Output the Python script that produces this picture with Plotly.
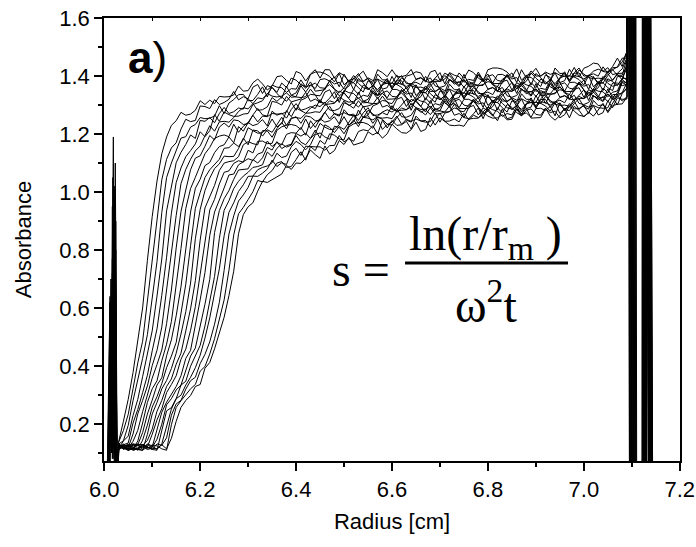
import plotly.graph_objects as go

# Radius grid of the scans [cm]
RADIUS = [6.03, 6.04, 6.05, 6.06, 6.07, 6.08, 6.09, 6.10, 6.11, 6.12,
          6.13, 6.14, 6.15, 6.16, 6.17, 6.18, 6.19, 6.20, 6.21, 6.22,
          6.23, 6.24, 6.25, 6.26, 6.27, 6.28, 6.29, 6.30, 6.31, 6.32,
          6.33, 6.34, 6.35, 6.36, 6.37, 6.38, 6.39, 6.40, 6.41, 6.42,
          6.43, 6.44, 6.45, 6.46, 6.47, 6.48, 6.49, 6.50, 6.51, 6.52,
          6.53, 6.54, 6.55, 6.56, 6.57, 6.58, 6.59, 6.60, 6.61, 6.62,
          6.63, 6.64, 6.65, 6.66, 6.67, 6.68, 6.69, 6.70, 6.71, 6.72,
          6.73, 6.74, 6.75, 6.76, 6.77, 6.78, 6.79, 6.80, 6.81, 6.82,
          6.83, 6.84, 6.85, 6.86, 6.87, 6.88, 6.89, 6.90, 6.91, 6.92,
          6.93, 6.94, 6.95, 6.96, 6.97, 6.98, 6.99, 7.00, 7.01, 7.02,
          7.03, 7.04, 7.05, 7.06, 7.07, 7.08, 7.09]

# Absorbance of each scan in milli-absorbance units (scan 1 ... scan 20)
A00 = [138,209,285,377,489,600,764,915,1038,1132,
       1190,1230,1246,1275,1265,1269,1282,1315,1302,1317,
       1305,1330,1328,1329,1335,1366,1348,1350,1377,1390,
       1373,1352,1366,1398,1401,1385,1373,1416,1409,1383,
       1407,1422,1393,1422,1422,1393,1412,1402,1383,1378,
       1402,1417,1388,1378,1422,1412,1398,1422,1398,1398,
       1403,1423,1389,1395,1380,1414,1420,1386,1410,1401,
       1382,1411,1392,1421,1412,1393,1383,1422,1428,1428,
       1424,1414,1395,1425,1386,1402,1407,1427,1399,1414,
       1406,1412,1403,1399,1400,1430,1397,1427,1434,1445,
       1442,1416,1413,1433,1462,1433,1487]
A01 = [137,177,233,321,411,485,627,780,917,1042,
       1113,1152,1170,1217,1251,1243,1247,1297,1295,1288,
       1319,1302,1309,1320,1347,1318,1329,1322,1362,1371,
       1340,1367,1361,1344,1376,1361,1393,1386,1370,1364,
       1406,1414,1414,1409,1399,1380,1409,1370,1385,1390,
       1409,1380,1394,1385,1390,1380,1375,1375,1404,1370,
       1400,1405,1415,1411,1382,1377,1393,1412,1373,1412,
       1403,1398,1379,1389,1385,1414,1385,1390,1376,1405,
       1406,1397,1411,1378,1422,1394,1418,1400,1401,1411,
       1383,1428,1409,1410,1387,1412,1428,1400,1402,1408,
       1400,1432,1410,1429,1430,1449,1484]
A02 = [130,142,195,280,351,426,508,630,760,929,
       1050,1100,1142,1186,1191,1224,1233,1257,1253,1255,
       1262,1298,1271,1307,1319,1336,1337,1315,1316,1337,
       1363,1328,1369,1362,1360,1344,1357,1355,1387,1362,
       1369,1357,1388,1391,1383,1397,1363,1407,1378,1402,
       1383,1383,1392,1363,1407,1387,1387,1363,1387,1402,
       1374,1374,1379,1370,1399,1375,1390,1381,1390,1410,
       1387,1367,1406,1372,1378,1407,1388,1407,1374,1374,
       1375,1404,1390,1395,1371,1382,1411,1393,1379,1375,
       1386,1411,1378,1384,1424,1396,1421,1407,1395,1391,
       1393,1391,1417,1422,1432,1462,1462]
A03 = [114,141,158,229,285,363,438,521,641,769,
       935,1021,1101,1137,1164,1197,1185,1247,1244,1257,
       1239,1271,1292,1271,1277,1290,1286,1322,1305,1325,
       1322,1338,1361,1340,1324,1365,1334,1342,1374,1358,
       1380,1348,1351,1353,1385,1373,1379,1355,1365,1394,
       1375,1360,1355,1365,1389,1355,1360,1399,1370,1394,
       1380,1366,1361,1362,1357,1381,1382,1382,1402,1387,
       1379,1379,1388,1369,1370,1404,1380,1399,1405,1385,
       1382,1406,1377,1363,1378,1403,1369,1409,1395,1372,
       1388,1374,1394,1415,1382,1402,1398,1390,1401,1417,
       1424,1417,1429,1405,1410,1425,1464]
A04 = [114,128,134,203,250,308,368,452,528,644,
       775,927,1033,1083,1122,1143,1166,1208,1191,1212,
       1267,1244,1276,1267,1261,1262,1269,1271,1302,1308,
       1315,1340,1331,1328,1331,1342,1327,1329,1367,1345,
       1368,1376,1360,1358,1383,1356,1343,1360,1387,1353,
       1392,1377,1353,1368,1353,1372,1392,1358,1377,1372,
       1364,1373,1388,1394,1384,1394,1366,1361,1366,1390,
       1372,1381,1362,1381,1373,1368,1368,1392,1369,1364,
       1389,1399,1379,1356,1366,1396,1396,1378,1364,1404,
       1395,1367,1392,1408,1380,1410,1411,1383,1404,1395,
       1378,1376,1402,1422,1403,1403,1462]
A05 = [114,131,119,165,235,281,331,401,454,534,
       667,804,919,1029,1078,1113,1142,1159,1194,1229,
       1210,1242,1244,1241,1257,1278,1291,1287,1305,1282,
       1284,1294,1326,1313,1328,1313,1334,1328,1326,1329,
       1355,1334,1332,1359,1371,1354,1332,1344,1375,1377,
       1360,1345,1384,1374,1345,1369,1384,1355,1384,1384,
       1356,1375,1365,1347,1342,1366,1382,1353,1343,1387,
       1378,1364,1388,1364,1365,1369,1389,1355,1361,1346,
       1381,1386,1352,1377,1368,1349,1378,1360,1390,1381,
       1363,1354,1394,1400,1401,1397,1388,1370,1401,1363,
       1380,1388,1409,1385,1409,1410,1430]
A06 = [119,116,116,140,178,242,304,358,405,455,
       546,662,807,933,1007,1077,1117,1125,1158,1195,
       1180,1224,1238,1224,1249,1246,1233,1236,1266,1288,
       1266,1262,1313,1309,1300,1330,1311,1315,1321,1344,
       1313,1321,1309,1345,1353,1322,1348,1341,1324,1355,
       1337,1369,1360,1342,1332,1371,1376,1376,1371,1361,
       1343,1372,1333,1349,1354,1373,1345,1359,1350,1355,
       1346,1341,1341,1370,1337,1366,1371,1381,1377,1348,
       1344,1359,1378,1340,1379,1370,1365,1347,1358,1354,
       1384,1356,1362,1348,1378,1379,1371,1386,1354,1399,
       1372,1399,1382,1387,1406,1387,1446]
A07 = [119,121,131,114,141,203,274,321,349,418,
       475,553,676,805,943,1012,1051,1093,1132,1154,
       1185,1193,1197,1191,1234,1206,1227,1240,1265,1242,
       1262,1260,1271,1269,1270,1276,1310,1282,1317,1324,
       1337,1335,1309,1307,1324,1346,1309,1351,1343,1340,
       1323,1334,1330,1361,1334,1340,1325,1354,1354,1345,
       1360,1326,1370,1342,1366,1347,1348,1357,1328,1372,
       1353,1353,1329,1353,1369,1340,1340,1345,1336,1365,
       1342,1356,1347,1357,1377,1354,1334,1374,1341,1347,
       1377,1359,1379,1346,1347,1348,1378,1365,1371,1348,
       1360,1392,1375,1365,1370,1390,1429]
A08 = [109,124,126,131,128,170,234,282,334,359,
       435,490,573,673,807,931,1013,1044,1091,1102,
       1136,1157,1163,1190,1170,1226,1210,1240,1229,1235,
       1250,1228,1279,1265,1272,1255,1285,1305,1282,1287,
       1295,1288,1319,1298,1315,1309,1320,1343,1322,1304,
       1345,1313,1320,1350,1332,1353,1320,1322,1322,1351,
       1338,1342,1318,1329,1358,1339,1325,1320,1330,1354,
       1321,1326,1365,1336,1361,1346,1332,1327,1328,1323,
       1348,1348,1348,1369,1354,1346,1346,1356,1338,1339,
       1374,1351,1371,1377,1358,1355,1380,1352,1339,1355,
       1381,1350,1391,1381,1367,1392,1392]
A09 = [128,114,114,116,112,144,196,258,294,339,
       394,434,481,587,682,815,944,998,1050,1077,
       1097,1113,1151,1153,1169,1157,1181,1222,1212,1203,
       1205,1222,1252,1225,1236,1281,1260,1290,1281,1272,
       1273,1277,1275,1301,1304,1306,1329,1317,1310,1313,
       1324,1308,1309,1344,1322,1342,1349,1330,1328,1354,
       1326,1311,1326,1351,1317,1356,1342,1318,1333,1318,
       1338,1358,1324,1343,1339,1330,1339,1354,1360,1350,
       1361,1332,1327,1333,1357,1339,1348,1330,1350,1342,
       1338,1339,1364,1341,1337,1362,1373,1354,1332,1343,
       1374,1377,1360,1350,1399,1399,1385]
A10 = [128,121,114,112,112,109,164,234,274,321,
       350,391,444,510,587,686,839,940,1005,1048,
       1081,1097,1124,1122,1123,1150,1186,1163,1214,1211,
       1193,1215,1206,1232,1258,1230,1256,1257,1254,1271,
       1290,1300,1295,1310,1283,1281,1288,1315,1298,1309,
       1293,1314,1308,1305,1306,1331,1309,1305,1330,1342,
       1324,1301,1313,1343,1343,1324,1310,1349,1339,1310,
       1335,1350,1321,1350,1351,1322,1341,1331,1313,1308,
       1333,1348,1319,1310,1354,1345,1331,1356,1333,1334,
       1339,1360,1327,1333,1319,1354,1360,1327,1353,1345,
       1327,1359,1342,1376,1376,1367,1372]
A11 = [121,116,121,128,131,126,143,182,244,281,
       329,355,406,444,517,597,694,834,945,986,
       1023,1074,1100,1105,1108,1122,1163,1174,1167,1163,
       1212,1211,1189,1219,1240,1218,1253,1260,1237,1263,
       1259,1246,1246,1275,1296,1269,1262,1308,1301,1289,
       1315,1294,1297,1303,1326,1293,1299,1286,1320,1327,
       1295,1320,1312,1295,1325,1306,1336,1326,1307,1297,
       1337,1342,1342,1337,1328,1309,1338,1299,1315,1320,
       1340,1311,1325,1317,1322,1313,1308,1309,1339,1306,
       1336,1342,1353,1349,1321,1317,1333,1353,1316,1356,
       1348,1346,1329,1344,1349,1388,1374]
A12 = [131,116,126,121,112,109,121,164,214,252,
       308,336,366,423,458,523,605,716,827,938,
       975,1028,1068,1073,1099,1108,1103,1144,1135,1175,
       1176,1167,1168,1213,1225,1231,1233,1229,1216,1252,
       1219,1240,1252,1276,1252,1271,1266,1274,1266,1263,
       1266,1297,1266,1297,1304,1316,1313,1285,1281,1299,
       1320,1282,1322,1314,1310,1292,1305,1300,1329,1300,
       1306,1291,1320,1320,1312,1326,1292,1336,1308,1332,
       1314,1314,1323,1295,1339,1320,1320,1297,1322,1338,
       1310,1311,1317,1308,1338,1315,1330,1322,1333,1354,
       1332,1315,1356,1327,1342,1381,1377]
A13 = [124,114,128,109,116,119,128,120,185,240,
       275,301,329,366,426,454,537,628,722,850,
       931,971,1014,1059,1062,1094,1104,1115,1109,1131,
       1137,1176,1157,1171,1163,1199,1205,1203,1223,1196,
       1246,1223,1253,1241,1246,1260,1235,1284,1266,1269,
       1247,1273,1291,1264,1266,1274,1266,1298,1275,1290,
       1284,1294,1316,1295,1276,1316,1284,1291,1321,1302,
       1322,1288,1288,1288,1318,1304,1308,1284,1295,1324,
       1306,1291,1286,1297,1321,1288,1293,1333,1305,1330,
       1316,1303,1299,1300,1296,1321,1322,1323,1345,1331,
       1324,1327,1338,1324,1334,1378,1369]
A14 = [119,126,109,131,116,128,119,119,147,199,
       266,287,317,334,385,434,462,532,613,699,
       860,936,977,1005,1044,1076,1077,1080,1112,1100,
       1118,1154,1145,1174,1150,1160,1165,1202,1193,1203,
       1185,1202,1237,1224,1216,1217,1232,1260,1231,1242,
       1283,1256,1282,1269,1257,1255,1257,1253,1280,1282,
       1284,1305,1291,1285,1286,1296,1279,1280,1315,1292,
       1314,1320,1300,1296,1321,1292,1277,1292,1317,1283,
       1323,1308,1284,1300,1285,1305,1325,1292,1312,1308,
       1300,1310,1326,1332,1323,1334,1306,1302,1309,1334,
       1317,1329,1312,1336,1337,1342,1357]
A15 = [126,119,121,109,114,128,119,112,109,172,
       245,256,287,334,347,399,433,471,538,623,
       709,840,937,970,1012,1037,1055,1068,1085,1088,
       1094,1138,1123,1151,1166,1155,1162,1195,1172,1163,
       1185,1214,1186,1232,1223,1205,1226,1216,1240,1265,
       1236,1258,1255,1249,1260,1276,1284,1276,1288,1260,
       1258,1265,1292,1275,1285,1267,1288,1280,1276,1277,
       1303,1280,1277,1302,1313,1293,1269,1279,1309,1309,
       1291,1276,1315,1306,1277,1302,1317,1289,1319,1320,
       1292,1312,1303,1285,1281,1306,1322,1294,1286,1331,
       1323,1312,1338,1319,1329,1343,1378]
A16 = [131,116,109,116,128,112,131,124,112,131,
       193,251,287,299,334,361,394,437,496,566,
       651,735,849,930,963,1002,1025,1054,1055,1077,
       1085,1090,1101,1134,1119,1124,1156,1175,1164,1146,
       1163,1198,1204,1190,1182,1227,1223,1201,1229,1249,
       1226,1259,1264,1237,1259,1251,1234,1231,1257,1274,
       1248,1241,1287,1279,1266,1291,1269,1271,1276,1297,
       1265,1271,1257,1292,1299,1266,1290,1281,1262,1291,
       1273,1302,1292,1274,1264,1304,1309,1310,1306,1297,
       1279,1309,1271,1287,1293,1313,1285,1300,1293,1299,
       1291,1289,1291,1325,1301,1340,1360]
A17 = [131,121,109,114,128,128,119,112,131,126,
       152,230,269,281,320,349,361,408,440,483,
       544,619,730,855,918,969,990,1016,1055,1054,
       1065,1079,1110,1088,1101,1095,1137,1151,1126,1158,
       1157,1143,1178,1165,1201,1196,1183,1180,1225,1235,
       1240,1240,1234,1220,1253,1216,1233,1241,1262,1234,
       1251,1244,1252,1245,1241,1243,1274,1241,1272,1278,
       1290,1285,1257,1253,1270,1290,1253,1293,1284,1279,
       1261,1271,1266,1296,1267,1273,1258,1288,1289,1281,
       1296,1263,1308,1280,1305,1287,1288,1298,1271,1316,
       1298,1301,1279,1308,1333,1314,1329]
A18 = [128,112,124,119,109,124,114,128,124,114,
       109,197,257,280,301,321,336,382,398,441,
       494,566,628,730,852,925,947,974,1001,1040,
       1035,1060,1074,1100,1105,1085,1088,1112,1139,1110,
       1157,1156,1156,1144,1160,1161,1195,1173,1184,1175,
       1209,1215,1211,1229,1200,1248,1221,1247,1230,1232,
       1244,1217,1262,1245,1247,1225,1253,1272,1244,1245,
       1252,1242,1272,1249,1265,1257,1267,1287,1265,1246,
       1287,1253,1258,1288,1269,1289,1255,1256,1257,1287,
       1274,1279,1256,1267,1297,1279,1265,1261,1273,1298,
       1266,1274,1315,1291,1325,1320,1321]
A19 = [119,128,109,128,124,121,112,116,114,128,
       114,150,209,257,281,298,329,336,392,412,
       459,510,568,643,727,856,922,949,963,1003,
       1037,1033,1043,1055,1062,1092,1078,1100,1099,1117,
       1145,1129,1116,1159,1131,1143,1178,1164,1189,1162,
       1167,1173,1208,1197,1206,1186,1201,1234,1218,1205,
       1203,1215,1241,1209,1216,1257,1231,1256,1244,1231,
       1229,1231,1227,1252,1254,1255,1276,1262,1255,1256,
       1267,1249,1251,1286,1262,1282,1287,1268,1265,1290,
       1262,1248,1264,1289,1256,1296,1282,1259,1276,1262,
       1283,1306,1274,1298,1303,1304,1328]

SCANS = [A00, A01, A02, A03, A04, A05, A06, A07, A08, A09,
         A10, A11, A12, A13, A14, A15, A16, A17, A18, A19]

# Meniscus artefact of each scan (radius [cm], absorbance)
MENISCUS_X = [
    [6.006, 6.013, 6.015, 6.019, 6.021, 6.023, 6.027],
    [6.008, 6.014, 6.016, 6.018, 6.020, 6.023, 6.028],
    [6.005, 6.012, 6.014, 6.017, 6.019, 6.021, 6.026],
    [6.009, 6.015, 6.017, 6.019, 6.021, 6.024, 6.027],
    [6.004, 6.013, 6.016, 6.018, 6.020, 6.022, 6.025],
    [6.007, 6.014, 6.016, 6.020, 6.022, 6.024, 6.027],
    [6.010, 6.015, 6.017, 6.019, 6.020, 6.022, 6.028],
    [6.006, 6.012, 6.015, 6.018, 6.020, 6.023, 6.026],
    [6.008, 6.013, 6.016, 6.018, 6.021, 6.023, 6.027],
    [6.005, 6.014, 6.016, 6.017, 6.019, 6.022, 6.025],
    [6.009, 6.013, 6.015, 6.018, 6.020, 6.021, 6.028],
    [6.007, 6.014, 6.016, 6.019, 6.021, 6.022, 6.026],
    [6.004, 6.012, 6.015, 6.018, 6.020, 6.024, 6.027],
    [6.010, 6.015, 6.017, 6.019, 6.021, 6.023, 6.028],
    [6.006, 6.013, 6.016, 6.017, 6.020, 6.022, 6.026],
    [6.008, 6.014, 6.016, 6.018, 6.019, 6.021, 6.027],
    [6.005, 6.012, 6.014, 6.018, 6.021, 6.024, 6.026],
    [6.009, 6.013, 6.015, 6.017, 6.019, 6.022, 6.028],
    [6.007, 6.014, 6.017, 6.020, 6.022, 6.023, 6.027],
    [6.006, 6.013, 6.015, 6.018, 6.020, 6.021, 6.026]]
MENISCUS_A = [
    [-0.2, 0.55, 0.25, 1.19, 0.20, 0.70, -0.2],
    [-0.2, 0.40, 0.10, 0.85, 0.30, 1.10, -0.2],
    [-0.2, 0.62, 0.20, 0.95, 0.15, 0.58, -0.2],
    [-0.2, 0.48, 0.28, 0.78, 0.05, 0.90, -0.2],
    [-0.2, 0.35, 0.12, 1.05, 0.22, 0.46, -0.2],
    [-0.2, 0.70, 0.18, 0.86, 0.30, 0.80, -0.2],
    [-0.2, 0.52, 0.25, 0.92, 0.08, 1.02, -0.2],
    [-0.2, 0.45, 0.16, 0.88, 0.26, 0.52, -0.2],
    [-0.2, 0.40, 0.30, 0.74, 0.12, 0.86, -0.2],
    [-0.2, 0.38, 0.20, 0.77, 0.24, 0.60, -0.2],
    [-0.2, 0.58, 0.10, 0.66, 0.28, 0.95, -0.2],
    [-0.2, 0.33, 0.22, 0.83, 0.18, 0.75, -0.2],
    [-0.2, 0.64, 0.14, 0.92, 0.30, 0.42, -0.2],
    [-0.2, 0.45, 0.26, 0.80, 0.10, 0.84, -0.2],
    [-0.2, 0.50, 0.18, 0.72, 0.22, 0.56, -0.2],
    [-0.2, 0.36, 0.12, 0.60, 0.28, 0.98, -0.2],
    [-0.2, 0.54, 0.24, 0.82, 0.16, 0.48, -0.2],
    [-0.2, 0.30, 0.20, 0.70, 0.14, 0.78, -0.2],
    [-0.2, 0.62, 0.08, 0.68, 0.26, 0.64, -0.2],
    [-0.2, 0.42, 0.22, 0.50, 0.12, 0.88, -0.2]]

# Cell-bottom artefact of each scan
BOTTOM_X = [[7.091, 7.097, 7.123, 7.125, 7.141], [7.099, 7.105, 7.129, 7.131, 7.147],
            [7.095, 7.101, 7.121, 7.123, 7.139], [7.104, 7.110, 7.126, 7.128, 7.144],
            [7.092, 7.098, 7.128, 7.130, 7.146], [7.101, 7.107, 7.122, 7.124, 7.140],
            [7.096, 7.102, 7.130, 7.132, 7.148], [7.106, 7.112, 7.124, 7.126, 7.142],
            [7.093, 7.099, 7.127, 7.129, 7.145], [7.100, 7.106, 7.125, 7.127, 7.143],
            [7.097, 7.103, 7.125, 7.127, 7.143], [7.103, 7.109, 7.129, 7.131, 7.147],
            [7.091, 7.097, 7.122, 7.124, 7.140], [7.102, 7.108, 7.127, 7.129, 7.145],
            [7.094, 7.100, 7.124, 7.126, 7.142], [7.098, 7.104, 7.130, 7.132, 7.148],
            [7.105, 7.111, 7.123, 7.125, 7.141], [7.092, 7.098, 7.126, 7.128, 7.144],
            [7.100, 7.106, 7.128, 7.130, 7.146], [7.096, 7.102, 7.121, 7.123, 7.139]]
BOTTOM_A = [4.5, -2.0, -2.0, 5.0, -2.0]

fig = go.Figure()
for k, scan in enumerate(SCANS):
    xs = MENISCUS_X[k] + RADIUS + BOTTOM_X[k]
    ys = MENISCUS_A[k] + [v / 1000.0 for v in scan] + BOTTOM_A
    fig.add_trace(go.Scatter(x=xs, y=ys, mode="lines",
                             line=dict(color="black", width=1),
                             hoverinfo="skip", showlegend=False))

# empty trace that carries the top tick axis
fig.add_trace(go.Scatter(x=[], y=[], xaxis="x2", showlegend=False))

SANS = "Liberation Sans, Arial, sans-serif"
SERIF = "Liberation Serif, Times New Roman, serif"

fig.update_layout(
    width=696, height=547,
    margin=dict(l=104, r=16, t=18, b=86),
    paper_bgcolor="white", plot_bgcolor="white",
    font=dict(family=SANS, size=22, color="black"),
    showlegend=False,
    xaxis=dict(range=[5.9995, 7.2005], tick0=6.0, dtick=0.2, tickformat=".1f",
               ticks="outside", ticklen=8, tickwidth=1.5, tickcolor="black",
               showline=True, linewidth=1.6, linecolor="black", mirror=True,
               showgrid=False, zeroline=False, automargin=False,
               ticklabeloverflow="allow",
               minor=dict(dtick=0.1, ticks="outside", ticklen=4, tickwidth=1.5,
                          tickcolor="black", showgrid=False),
               title=dict(text="Radius [cm]", font=dict(size=22), standoff=12)),
    xaxis2=dict(range=[5.9995, 7.2005], overlaying="x", side="top",
                tick0=6.0, dtick=0.1, ticks="inside", ticklen=3, tickwidth=1.2,
                tickcolor="black", showticklabels=False, showgrid=False,
                zeroline=False, showline=False, automargin=False),
    yaxis=dict(range=[0.072, 1.6005], tick0=0, dtick=0.2, tickformat=".1f",
               ticks="outside", ticklen=8, tickwidth=1.5, tickcolor="black",
               showline=True, linewidth=1.6, linecolor="black", mirror=True,
               showgrid=False, zeroline=False, automargin=False,
               ticklabeloverflow="allow",
               minor=dict(dtick=0.1, ticks="outside", ticklen=4, tickwidth=1.5,
                          tickcolor="black", showgrid=False),
               title=dict(text="Absorbance", font=dict(size=22), standoff=22)),
)

fig.add_annotation(xref="paper", yref="paper", x=0.038, y=0.91,
                   xanchor="left", yanchor="middle", showarrow=False,
                   text="<b>a</b>)", font=dict(family=SANS, size=44, color="black"))
fig.add_annotation(xref="paper", yref="paper", x=0.446, y=0.433,
                   xanchor="center", yanchor="middle", showarrow=False,
                   text="s =", font=dict(family=SERIF, size=48, color="black"))
fig.add_annotation(xref="paper", yref="paper", x=0.663, y=0.506,
                   xanchor="center", yanchor="middle", showarrow=False,
                   text="ln(r/r<sub>m</sub> )", font=dict(family=SERIF, size=48, color="black"))
fig.add_annotation(xref="paper", yref="paper", x=0.663, y=0.36,
                   xanchor="center", yanchor="middle", showarrow=False,
                   text="ω<sup>2</sup>t", font=dict(family=SERIF, size=48, color="black"))
fig.add_shape(type="line", xref="paper", yref="paper", x0=0.5226, x1=0.8056,
              y0=0.447, y1=0.447, line=dict(color="black", width=3))

# place the figure at the page origin (no default body margin), no mode bar
fig.write_html("out.html", config={"displayModeBar": False},
               post_script="document.body.style.margin='0';")
